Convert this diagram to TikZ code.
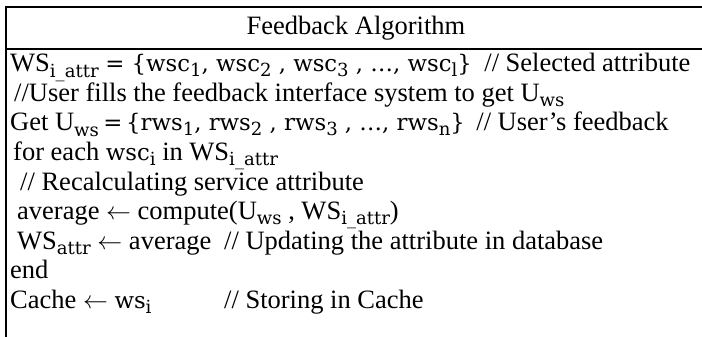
\documentclass[tikz,border=0pt]{standalone}
\usepackage{fontspec}
\setmainfont{Liberation Serif}
\newfontfamily\mfont{DejaVu Serif}[Scale=0.86]
\newcommand\mth[1]{{\mfont #1}}
\newcommand\sbs[1]{\raisebox{-0.2em}{\fontsize{21}{21}\selectfont\mfont #1}}
\tikzset{
  ln/.style={anchor=base west, inner sep=0pt, font=\fontsize{26.5}{30}\selectfont},
  rule/.style={line width=2pt}
}
\begin{document}
\begin{tikzpicture}[x=1pt,y=-1pt]
\useasboundingbox (0,0) rectangle (702,337);
\coordinate (bl) at (5.5,337);
\coordinate (tl) at (5.5,7);
\coordinate (tr) at (702,7);
\coordinate (ml) at (5.5,49);
\coordinate (mr) at (702,49);
\draw[rule] (bl) -- (tl) -- (tr);
\draw[rule] (ml) -- (mr);
\node[ln, anchor=base] (hd) at (356,35) {Feedback Algorithm};
\node[ln] (l1) at (10,72) {WS\sbs{i\_attr} \mth{= \{wsc\sbs{1}, wsc\sbs{2} , wsc\sbs{3} , …, wsc\sbs{l}\}}};
\node[ln] (c1) at ([xshift=12pt]l1.base east) {// Selected attribute};
\node[ln] (l2) at (14,101.5) {//User fills the feedback interface system to get U\sbs{ws}};
\node[ln] (l3) at (10,131) {Get U\sbs{ws}\,\mth{=\,\{rws\sbs{1}, rws\sbs{2} , rws\sbs{3} , …, rws\sbs{n}\}}};
\node[ln] (c3) at ([xshift=11pt]l3.base east) {// User’s feedback};
\node[ln] (l4) at (13,160.5) {for each \mth{wsc}\sbs{i} in WS\sbs{i\_attr}};
\node[ln] (l5) at (20,190) {// Recalculating service attribute};
\node[ln] (l6) at (17,219.5) {average $\leftarrow$ compute(U\sbs{ws} , WS\sbs{i\_attr})};
\node[ln] (l7) at (17,249) {WS\sbs{attr} $\leftarrow$ average};
\node[ln] (c7) at (224,249) {// Updating the attribute in database};
\node[ln] (l8) at (10,278.5) {end};
\node[ln] (l9) at (10,308) {Cache $\leftarrow$ \mth{ws}\sbs{i}};
\node[ln] (c9) at (224,308) {// Storing in Cache};
\end{tikzpicture}
\end{document}
